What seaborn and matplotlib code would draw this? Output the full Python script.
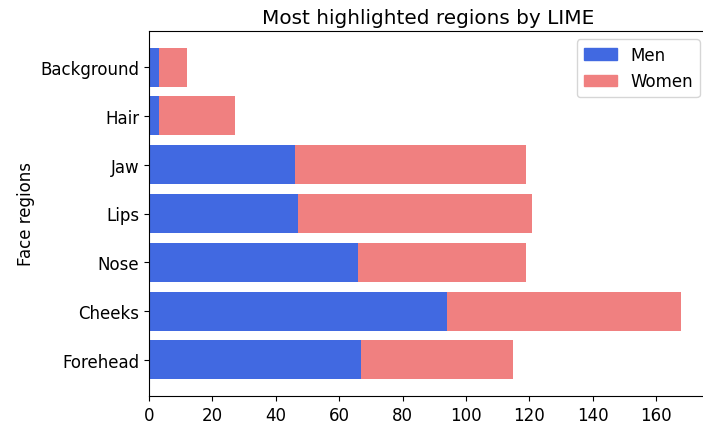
import matplotlib
matplotlib.use("Agg")
import matplotlib.pyplot as plt
import matplotlib.patches as mpatches
import seaborn as sns
import pandas as pd

# values (top to bottom)
regions = ["Background", "Hair", "Jaw", "Lips", "Nose", "Cheeks", "Forehead"]
men = [3, 3, 46, 47, 66, 94, 67]
women = [9, 24, 73, 74, 53, 74, 48]

df = pd.DataFrame({"region": regions, "Men": men, "Women": women})
df["total"] = df["Men"] + df["Women"]

men_color = "royalblue"
women_color = "lightcoral"

plt.rcParams["font.family"] = "DejaVu Sans"
plt.rcParams["font.size"] = 12
fig, ax = plt.subplots(figsize=(7.03, 4.27), dpi=100)

# stacked bars: draw totals first, then men on top
sns.barplot(data=df, y="region", x="total", order=regions, color=women_color,
            width=0.8, linewidth=0, saturation=1, ax=ax)
sns.barplot(data=df, y="region", x="Men", order=regions, color=men_color,
            width=0.8, linewidth=0, saturation=1, ax=ax)

# margins like plain plt.barh
ax.set_xlim(0, df["total"].max() * 1.05)
ax.set_ylim(len(regions) - 0.6 + 0.34, -0.4 - 0.34)
ax.set_title("Most highlighted regions by LIME", fontsize=14.4)
ax.set_ylabel("Face regions")
ax.set_xlabel("")

handles = [mpatches.Patch(color=men_color, label="Men"),
           mpatches.Patch(color=women_color, label="Women")]
ax.legend(handles=handles, loc="upper right")

fig.subplots_adjust(left=149 / 703, right=708 / 703, top=1 - 32 / 427, bottom=1 - 397 / 427)
fig.savefig("out.png", dpi=100)
